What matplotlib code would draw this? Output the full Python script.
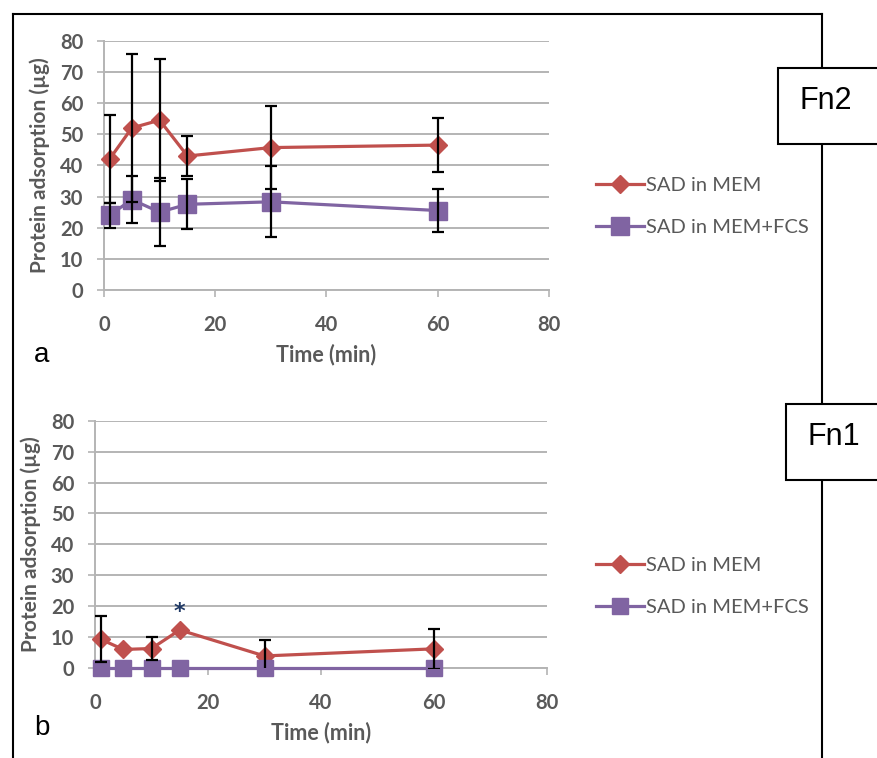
import matplotlib
matplotlib.use("Agg")
import matplotlib.pyplot as plt
from matplotlib.lines import Line2D
from matplotlib.patches import Rectangle

# ---- data ----
time = [1, 5, 10, 15, 30, 60]
a_mem = [42, 52, 54.5, 43, 45.7, 46.5]
a_mem_err = [14, 23.7, 19.6, 6.4, 13.4, 8.7]
a_fcs = [24, 29, 25, 27.5, 28.3, 25.5]
a_fcs_err = [4, 7.5, 11, 8, 11.4, 7]

b_mem = [9.3, 6.0, 6.3, 12.3, 3.9, 6.2]
b_mem_err = [7.5, 0, 3.6, 0, 5.2, 6.5]
b_fcs = [0, 0, 0, 0, 0, 0]
b_fcs_err = [0, 0, 0, 0, 0, 0]

x_ticks = [0, 20, 40, 60, 80]
y_ticks = [0, 10, 20, 30, 40, 50, 60, 70, 80]
series_labels = ["SAD in MEM", "SAD in MEM+FCS"]
panel_letters = ["a", "b"]
box_labels = ["Fn2", "Fn1"]
star_x, star_y = 15, 18.2

RED = "#C0504D"
PURPLE = "#8064A2"
GRID = "#B4B4B4"
TXT = "#595959"
FONT = "Lato"

W, H = 878, 758
fig = plt.figure(figsize=(W / 100, H / 100), dpi=100)


def px_axes(x0, x1, y_top, y_bot):
    return fig.add_axes([x0 / W, 1 - y_bot / H, (x1 - x0) / W, (y_bot - y_top) / H])


def style_axes(ax):
    ax.set_xlim(0, 80)
    ax.set_ylim(0, 80)
    ax.set_xticks(x_ticks)
    ax.set_yticks(y_ticks)
    for s in ["top", "right"]:
        ax.spines[s].set_visible(False)
    for s in ["left", "bottom"]:
        ax.spines[s].set_color(GRID)
        ax.spines[s].set_linewidth(1.4)
    ax.yaxis.grid(True, color=GRID, linewidth=1.4)
    ax.set_axisbelow(True)
    ax.tick_params(axis="both", colors=GRID, width=1.2, length=5)
    ax.tick_params(axis="x", direction="out", pad=13)
    ax.tick_params(axis="y", direction="out", pad=10)
    for lab in ax.get_xticklabels() + ax.get_yticklabels():
        lab.set_color(TXT)
        lab.set_fontsize(14.5)
        lab.set_fontfamily(FONT)
        lab.set_fontweight("bold")
    ax.set_ylabel("Protein adsorption (µg)", fontsize=15, fontweight="bold",
                  color=TXT, family=FONT, labelpad=7)
    ax.set_xlabel("Time (min)", fontsize=15.5, fontweight="bold", color=TXT,
                  family=FONT, labelpad=6)


def draw(ax, mem, mem_err, fcs, fcs_err, sq_ms):
    ax.plot(time, mem, color=RED, lw=2.3, marker="D", ms=9.5, mec=RED, mfc=RED,
            zorder=3, clip_on=False, label=series_labels[0])
    ax.plot(time, fcs, color=PURPLE, lw=2.3, marker="s", ms=sq_ms, mec=PURPLE,
            mfc=PURPLE, zorder=3, clip_on=False, label=series_labels[1])
    for ys, es in [(mem, mem_err), (fcs, fcs_err)]:
        xs = [t for t, e in zip(time, es) if e > 0]
        yv = [y for y, e in zip(ys, es) if e > 0]
        ev = [e for e in es if e > 0]
        if xs:
            ax.errorbar(xs, yv, yerr=ev, fmt="none", ecolor="black",
                        elinewidth=1.6, capsize=4, capthick=1.6, zorder=4)


# panel a
ax1 = px_axes(104, 549, 40.7, 290)
style_axes(ax1)
draw(ax1, a_mem, a_mem_err, a_fcs, a_fcs_err, 13.5)

# panel b
ax2 = px_axes(95, 547, 420.7, 668)
style_axes(ax2)
draw(ax2, b_mem, b_mem_err, b_fcs, b_fcs_err, 11.5)
ax2.text(star_x, star_y, "*", ha="center", va="center", fontsize=16,
         color="#1F3864", fontweight="bold")

# legends
for ax, ly in [(ax1, 206.5), (ax2, 586.5)]:
    leg = ax.legend(loc="center left", bbox_to_anchor=(596 / W, 1 - ly / H),
                    bbox_transform=fig.transFigure, frameon=False,
                    prop={"family": FONT, "size": 14.5},
                    handlelength=2.4, handletextpad=0.1, labelspacing=1.2,
                    borderpad=0, borderaxespad=0)
    for t in leg.get_texts():
        t.set_color(TXT)

# outer frame
for (x0, y0, x1, y1) in [(13, 14, 822, 14), (13, 14, 13, 758), (822, 14, 822, 758)]:
    fig.add_artist(Line2D([x0 / W, x1 / W], [1 - y0 / H, 1 - y1 / H],
                          color="black", lw=1.5, transform=fig.transFigure))

# boxes with labels
for (bx0, by0, by1, lbl) in [(778, 68, 144, box_labels[0]), (786, 404, 480, box_labels[1])]:
    fig.add_artist(Rectangle((bx0 / W, 1 - by1 / H), (W + 5 - bx0) / W, (by1 - by0) / H,
                             transform=fig.transFigure, facecolor="white",
                             edgecolor="black", lw=1.5, zorder=5))
    fig.text((bx0 + 48) / W, 1 - (by0 + 33) / H, lbl, ha="center", va="center",
             fontsize=22, family="Liberation Sans", zorder=6)

# panel letters
fig.text(42 / W, 1 - 355 / H, panel_letters[0], ha="center", va="center",
         fontsize=20, family="Liberation Sans")
fig.text(42 / W, 1 - 728 / H, panel_letters[1], ha="center", va="center",
         fontsize=20, family="Liberation Sans")

fig.savefig("out.png", dpi=100, facecolor="white")
